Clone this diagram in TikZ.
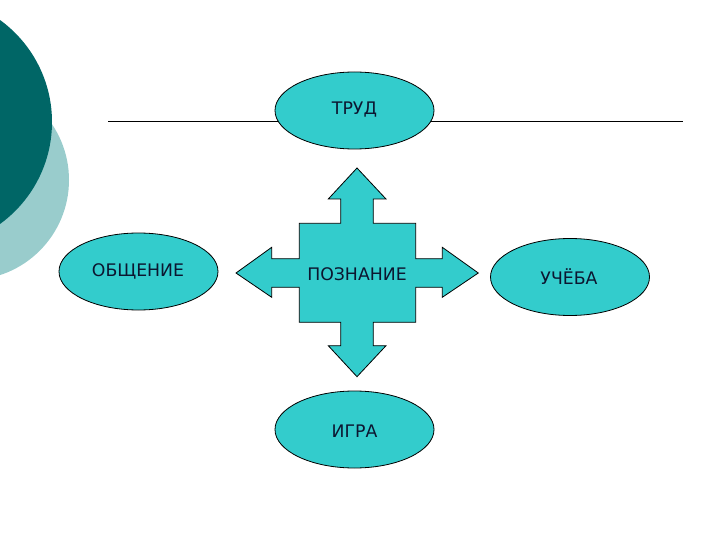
\documentclass[tikz,border=0pt]{standalone}
\usepackage{fontspec}
\setmainfont{DejaVu Sans}
\usetikzlibrary{shapes.geometric}
\definecolor{darkteal}{HTML}{006666}
\definecolor{lightteal}{HTML}{99CCCC}
\definecolor{cyanfill}{HTML}{33CCCC}
\definecolor{txt}{HTML}{0C1630}
\begin{document}
\begin{tikzpicture}[x=1pt,y=-1pt,
  oval/.style={ellipse,draw=black,line width=0.8pt,fill=cyanfill,minimum width=159pt,minimum height=77pt,inner sep=0pt},
  lbl/.style={text=txt,font=\fontsize{17.3}{19}\selectfont,inner sep=0pt}]
\useasboundingbox (0,0) rectangle (720,540);
\clip (0,0) rectangle (720,540);
% background circles
\fill[lightteal] (-31,180) circle (100);
\fill[darkteal] (-74,122) circle (126);
% line
\coordinate (l1) at (108,121);
\coordinate (l2) at (683,121);
\draw[line width=0.8pt] (l1) -- (l2);
% ellipses
\node[oval] (trud) at (354.5,110.5) {};
\node[oval] (obsch) at (138.5,271.5) {};
\node[oval] (ucheba) at (570,277) {};
\node[oval] (igra) at (354.5,429.5) {};
\node[lbl] at (354.5,110) {ТРУД};
\node[lbl] at (138,271) {ОБЩЕНИЕ};
\node[lbl] at (569,277) {УЧЁБА};
\node[lbl] at (354.5,431) {ИГРА};
% cross
\draw[line width=0.8pt,fill=cyanfill]
  (357,168) -- (386,199) -- (373.3,199) -- (373.3,223.3) -- (415.7,223.3)
  -- (415.7,258.7) -- (442.3,258.7) -- (442.3,247.3) -- (478.3,273) -- (442.3,297.3) -- (442.3,287.3) -- (415.7,287.3)
  -- (415.7,322.3) -- (373.3,322.3) -- (373.3,345.7) -- (386,345.7) -- (357,376.7) -- (328.3,345.7) -- (340.7,345.7) -- (340.7,322.3)
  -- (299.3,322.3) -- (299.3,287.3) -- (271.7,287.3) -- (271.7,297.3) -- (236,273) -- (271.7,247.3) -- (271.7,258.7) -- (299.3,258.7)
  -- (299.3,223.3) -- (340.7,223.3) -- (340.7,199) -- (328.3,199) -- cycle;
\node[lbl] (pozn) at (357,274) {ПОЗНАНИЕ};
\end{tikzpicture}
\end{document}
